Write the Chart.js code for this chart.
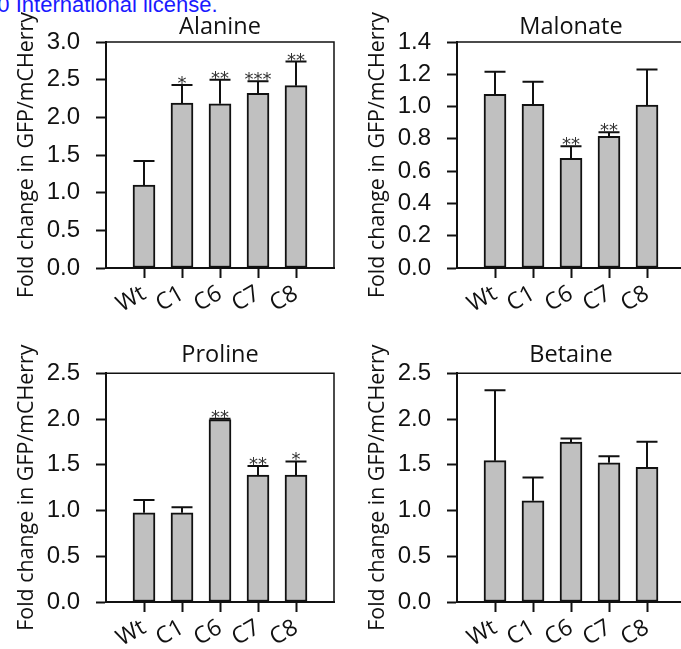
<!DOCTYPE html>
<html>
<head>
<meta charset="utf-8">
<script src="https://cdn.jsdelivr.net/npm/chart.js@4.4.0/dist/chart.umd.min.js"></script>
<style>
  html, body { margin:0; padding:0; background:#fff; width:681px; height:649px; overflow:hidden; position:relative; }
  canvas { position:absolute; }
  #license { position:absolute; left:-21px; top:-6px; font:22px "Liberation Sans", Arial, sans-serif; color:#1a1aff; line-height:22px; white-space:nowrap; }
</style>
</head>
<body>
<div id="license">4.0 International license.</div>
<canvas id="alanine" width="340" height="320" style="left:0;top:0"></canvas>
<canvas id="malonate" width="340" height="320" style="left:351px;top:0"></canvas>
<canvas id="proline" width="340" height="320" style="left:0;top:331px"></canvas>
<canvas id="betaine" width="340" height="320" style="left:351px;top:331px"></canvas>
<script>
const categories = ['Wt', 'C1', 'C6', 'C7', 'C8'];

const alanineMean = [1.10, 2.19, 2.18, 2.32, 2.42];
const alanineErr = [0.32, 0.24, 0.32, 0.16, 0.32];
const alanineStars = ['', '*', '**', '***', '**'];

const malonateMean = [1.076, 1.014, 0.679, 0.816, 1.010];
const malonateErr = [0.14, 0.14, 0.075, 0.025, 0.22];
const malonateStars = ['', '', '**', '**', ''];

const prolineMean = [0.975, 0.975, 1.993, 1.387, 1.387];
const prolineErr = [0.14, 0.06, 0.01, 0.10, 0.15];
const prolineStars = ['', '', '**', '**', '*'];

const betaineMean = [1.545, 1.106, 1.748, 1.522, 1.471];
const betaineErr = [0.77, 0.255, 0.04, 0.07, 0.28];
const betaineStars = ['', '', '', '', ''];

const ink = '#111';

// error bars, stars and the top/right frame
function extras(means, errs, stars) {
  return {
    id: 'extras',
    afterDatasetsDraw(chart) {
      const ctx = chart.ctx;
      const a = chart.chartArea;
      const y = chart.scales.y;
      ctx.save();
      ctx.strokeStyle = ink;
      ctx.lineWidth = 2;
      ctx.fillStyle = '#333';
      ctx.font = '18px "DejaVu Sans"';
      ctx.textAlign = 'center';
      ctx.textBaseline = 'alphabetic';
      chart.getDatasetMeta(0).data.forEach((bar, i) => {
        const top = y.getPixelForValue(means[i] + errs[i]);
        ctx.beginPath();
        ctx.moveTo(bar.x, bar.y);
        ctx.lineTo(bar.x, top);
        ctx.moveTo(bar.x - 10.5, top);
        ctx.lineTo(bar.x + 10.5, top);
        ctx.stroke();
        if (stars[i]) ctx.fillText(stars[i], bar.x, top + 4);
      });
      ctx.lineWidth = 1.5;
      ctx.beginPath();
      ctx.moveTo(a.left, a.top);
      ctx.lineTo(a.right, a.top);
      ctx.lineTo(a.right, a.bottom);
      ctx.stroke();
      ctx.restore();
    }
  };
}

function panel(id, title, means, errs, stars, yMax, yStep, titleTop, titleBottom, xHeight) {
  new Chart(document.getElementById(id), {
    type: 'bar',
    data: {
      datasets: [{
        data: means.map((v, i) => ({x: i, y: v})),
        backgroundColor: '#c0c0c0',
        borderColor: ink,
        borderWidth: 2,
        borderSkipped: false,
        barThickness: 22
      }]
    },
    options: {
      responsive: false,
      animation: false,
      events: [],
      layout: {padding: {left: 0, right: 6, top: 0, bottom: 0}},
      plugins: {
        legend: {display: false},
        tooltip: {enabled: false},
        title: {
          display: true,
          text: title,
          fullSize: false,
          color: ink,
          font: {family: 'Open Sans', size: 23.5, weight: 'normal'},
          padding: {top: titleTop, bottom: titleBottom}
        }
      },
      scales: {
        x: {
          type: 'linear',
          min: -1,
          max: 5,
          offset: false,
          afterBuildTicks: s => { s.ticks = categories.map((c, i) => ({value: i})); },
          afterFit: s => { s.height = xHeight; s.paddingLeft = 0; s.paddingRight = 0; },
          ticks: {
            callback: v => categories[v],
            minRotation: 30,
            maxRotation: 30,
            autoSkip: false,
            padding: 2,
            color: ink,
            font: {family: 'Open Sans', size: 23}
          },
          grid: {offset: false, drawOnChartArea: false, tickLength: 10, tickWidth: 2, tickColor: ink},
          border: {color: ink, width: 2}
        },
        y: {
          min: 0,
          max: yMax,
          afterFit: s => { s.width = 106; },
          ticks: {
            stepSize: yStep,
            autoSkip: false,
            callback: v => v.toFixed(1),
            padding: 16,
            color: ink,
            font: {family: 'Liberation Sans', size: 24}
          },
          grid: {drawOnChartArea: false, tickLength: 10, tickWidth: 2, tickColor: ink},
          border: {color: ink, width: 2},
          title: {
            display: true,
            text: 'Fold change in GFP/mCHerry',
            color: ink,
            font: {family: 'Open Sans', size: 21.4},
            padding: {top: 13.6, bottom: 0}
          }
        }
      }
    },
    plugins: [extras(means, errs, stars)]
  });
}

panel('alanine', 'Alanine', alanineMean, alanineErr, alanineStars, 3.0, 0.5, 12.9, 0.9, 52);
panel('malonate', 'Malonate', malonateMean, malonateErr, malonateStars, 1.4, 0.2, 12.9, 0.9, 52);
panel('proline', 'Proline', prolineMean, prolineErr, prolineStars, 2.5, 0.5, 10.4, 3.7, 49);
panel('betaine', 'Betaine', betaineMean, betaineErr, betaineStars, 2.5, 0.5, 10.4, 3.7, 49);
</script>
</body>
</html>
